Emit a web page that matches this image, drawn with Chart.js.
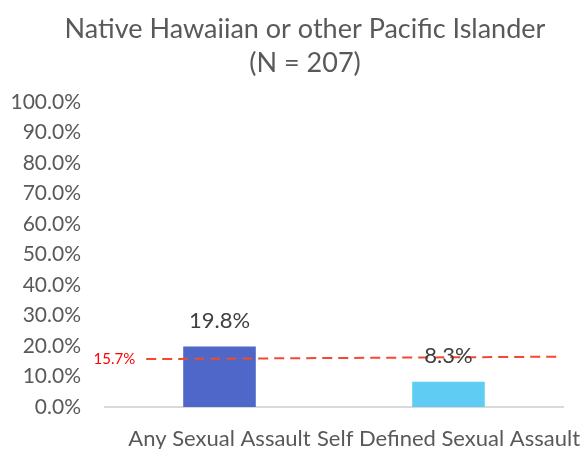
<!DOCTYPE html>
<html>
<head>
<meta charset="utf-8">
<script src="https://cdn.jsdelivr.net/npm/chart.js@4.4.1/dist/chart.umd.min.js"></script>
<style>
  html, body { margin: 0; padding: 0; background: #fff; }
  #wrap { width: 584px; height: 451px; }
</style>
</head>
<body>
<div id="wrap"><canvas id="chart" width="584" height="451"></canvas></div>
<script>
// ─── Data ───
const titleLines = ['Native Hawaiian or other Pacific Islander', '(N = 207)'];
const categories = ['Any Sexual Assault', 'Self Defined Sexual Assault'];
const values = [19.8, 8.3];
const barColors = ['#4E67C8', '#5ECCF3'];
const refValue = 15.7;
const refLineX = [0.09, 0.99];      // fraction across the plot
const refLineY = [15.7, 16.5];      // slight tilt as in the source
const yTicks = [0, 10, 20, 30, 40, 50, 60, 70, 80, 90, 100];

const FONT = 'Lato, "Open Sans", sans-serif';

// ─── Plugin: title (offset to the right like the source) ───
const titlePlugin = {
  id: 'customTitle',
  afterDraw(chart) {
    const ctx = chart.ctx;
    ctx.save();
    ctx.font = '27px ' + FONT;
    ctx.fillStyle = '#595959';
    ctx.textAlign = 'center';
    ctx.textBaseline = 'alphabetic';
    ctx.fillText(titleLines[0], 305, 38);
    ctx.fillText(titleLines[1], 305, 72);
    ctx.restore();
  }
};

// ─── Plugin: value labels + reference label ───
const labelsPlugin = {
  id: 'labels',
  afterDatasetsDraw(chart) {
    const ctx = chart.ctx;
    const meta = chart.getDatasetMeta(0);
    ctx.save();
    ctx.font = '22px ' + FONT;
    ctx.fillStyle = '#404040';
    ctx.textAlign = 'center';
    ctx.textBaseline = 'middle';
    meta.data.forEach((bar, i) => {
      ctx.fillText(values[i].toFixed(1) + '%', bar.x, bar.y - 26);
    });
    // reference label
    const x2 = chart.scales.x2;
    const y = chart.scales.y;
    ctx.font = '15px ' + FONT;
    ctx.fillStyle = '#FF0000';
    ctx.textAlign = 'right';
    ctx.fillText(refValue.toFixed(1) + '%', x2.getPixelForValue(refLineX[0]) - 11, y.getPixelForValue(refLineY[0]));
    ctx.restore();
  }
};

new Chart(document.getElementById('chart'), {
  type: 'bar',
  data: {
    labels: categories,
    datasets: [
      {
        type: 'bar',
        data: values,
        backgroundColor: barColors,
        barPercentage: 0.317,
        categoryPercentage: 1,
        grouped: false,
        order: 2,
      },
      {
        type: 'line',
        xAxisID: 'x2',
        data: refLineX.map((x, i) => ({ x, y: refLineY[i] })),
        borderColor: '#EF4B2C',
        borderWidth: 2,
        borderDash: [10, 6],
        pointRadius: 0,
        fill: false,
        order: 1,
      },
    ],
  },
  options: {
    responsive: false,
    animation: false,
    layout: { padding: { left: 0, right: 0, top: 102, bottom: 2 } },
    plugins: {
      legend: { display: false },
      tooltip: { enabled: false },
      title: { display: false },
    },
    scales: {
      x: {
        // labels may run past the plot edge, as in the source
        afterFit(scale) {
          scale.height = 42;
          scale.paddingLeft = 0;
          scale.paddingRight = 0;
        },
        grid: { display: true, drawOnChartArea: false, drawTicks: false },
        border: { display: true, color: '#D9D9D9', width: 2 },
        ticks: {
          color: '#595959',
          font: { family: FONT, size: 22 },
          padding: 19,
          maxRotation: 0,
          minRotation: 0,
          autoSkip: false,
        },
      },
      // invisible 0..1 axis for the reference line
      x2: {
        type: 'linear',
        position: 'bottom',
        offset: false,
        min: 0,
        max: 1,
        afterFit(scale) {
          scale.height = 0;
          scale.paddingLeft = 0;
          scale.paddingRight = 0;
        },
        grid: { display: false, drawTicks: false, offset: false },
        border: { display: false },
        ticks: { display: false },
      },
      y: {
        min: 0,
        max: 100,
        afterFit(scale) { scale.width = 105; },
        afterBuildTicks(scale) { scale.ticks = yTicks.map(v => ({ value: v })); },
        grid: { display: false, drawTicks: false },
        border: { display: false },
        ticks: {
          color: '#595959',
          font: { family: FONT, size: 21 },
          padding: 24,
          callback: v => v.toFixed(1) + '%',
        },
      },
      // empty right-hand axis, only reserves the margin on the right
      yRight: {
        position: 'right',
        afterFit(scale) { scale.width = 21; },
        grid: { display: false, drawTicks: false },
        border: { display: false },
        ticks: { display: false },
      },
    },
  },
  plugins: [labelsPlugin, titlePlugin],
});
</script>
</body>
</html>
